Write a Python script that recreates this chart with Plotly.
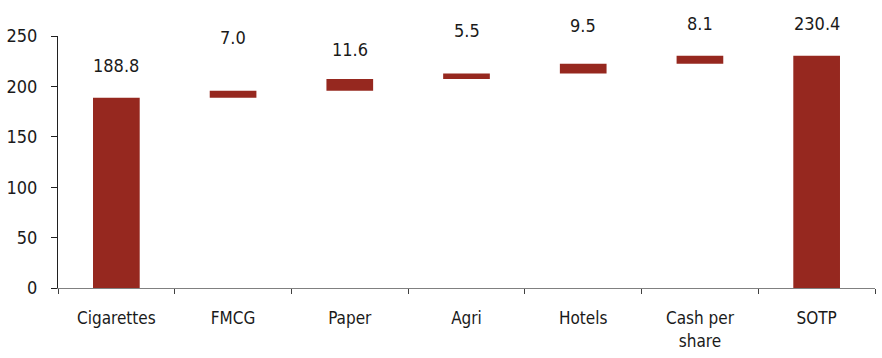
import plotly.graph_objects as go

# ---- data ----
categories = ["Cigarettes", "FMCG", "Paper", "Agri", "Hotels", "Cash per<br>share", "SOTP"]
values = [188.8, 7.0, 11.6, 5.5, 9.5, 8.1, 230.4]
measures = ["absolute", "relative", "relative", "relative", "relative", "relative", "absolute"]
y_ticks = [0, 50, 100, 150, 200, 250]

BAR = "#96281f"
FONT = "DejaVu Sans Condensed, Liberation Sans Narrow, Roboto, sans-serif"
TXT = "#1a1a1a"
Y_MAX = 250

fig = go.Figure()
fig.add_trace(go.Waterfall(
    x=categories, y=values, measure=measures,
    width=0.4,
    increasing=dict(marker=dict(color=BAR)),
    decreasing=dict(marker=dict(color=BAR)),
    totals=dict(marker=dict(color=BAR)),
    connector=dict(visible=False),
    textposition="none",
    hoverinfo="skip",
))

# label heights (layout styling, in axis units)
label_heights = [220.7, 249, 237, 255, 260, 262, 262]
for cat, v, ly in zip(categories, values, label_heights):
    fig.add_annotation(x=cat, y=ly / Y_MAX, xref="x", yref="paper", text=f"{v:.1f}",
                       showarrow=False, font=dict(family=FONT, size=18, color=TXT),
                       yanchor="middle")

fig.update_layout(
    width=882, height=358,
    margin=dict(l=58, r=7, t=36, b=70),
    plot_bgcolor="white", paper_bgcolor="white",
    showlegend=False,
    font=dict(family=FONT, size=18, color=TXT),
)
fig.update_xaxes(
    range=[-0.5, 6.5], showgrid=False,
    showline=True, linecolor="#808080", linewidth=1,
    ticks="outside", ticklen=5, tickcolor="#404040", tickson="boundaries",
    ticklabelstandoff=15,
    tickfont=dict(family=FONT, size=17, color=TXT),
)
fig.update_yaxes(
    range=[0, Y_MAX], tickvals=y_ticks, showgrid=False, zeroline=False,
    showline=True, linecolor="#202020", linewidth=1,
    ticks="outside", ticklen=6, tickcolor="#202020",
    ticklabelstandoff=10,
    tickfont=dict(family=FONT, size=18, color=TXT),
)

fig.write_html("out.html")
